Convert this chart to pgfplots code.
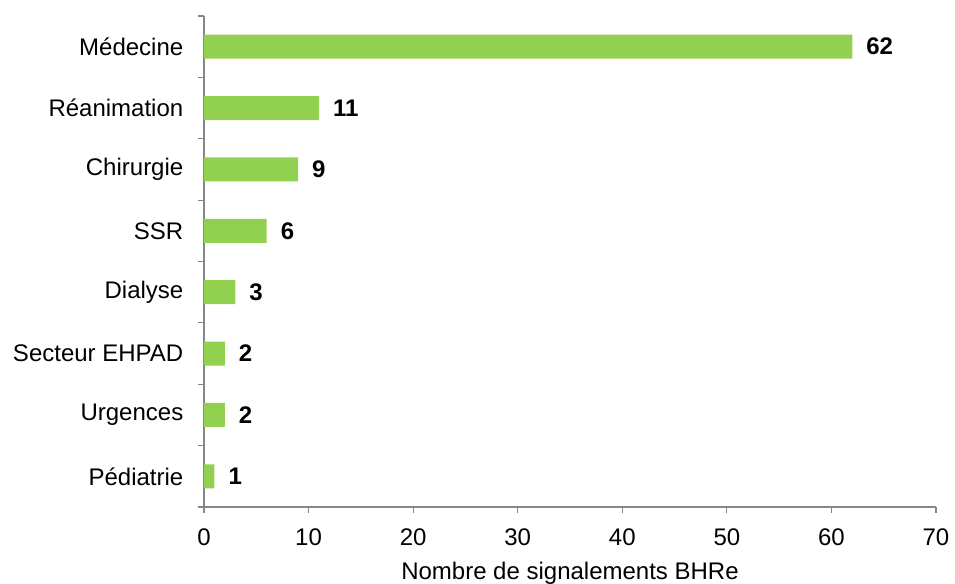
\documentclass[border=0pt]{standalone}
\usepackage{fontspec}
\setmainfont{Liberation Sans}
\usepackage{pgfplots}
\pgfplotsset{compat=1.18}
\usetikzlibrary{calc}
\definecolor{barvert}{HTML}{92D050}
\definecolor{axegris}{HTML}{868686}

\begin{document}
\begin{tikzpicture}
\begin{axis}[
    name=ax,
    xbar,
    scale only axis,
    width=549pt, height=368.25pt,
    xmin=0, xmax=70,
    ymin=-0.5, ymax=7.5,
    axis x line*=bottom,
    axis y line*=left,
    axis line style={axegris, line width=0.8pt},
    tick align=outside,
    major tick length=4.5pt,
    xtick={0,10,...,70},
    tick style={axegris, line width=0.8pt},
    ytick={-0.5,0.5,...,7.5},
    yticklabels={},
    extra y ticks={0,...,7},
    extra y tick labels={Pédiatrie, Urgences, Secteur EHPAD, Dialyse, SSR, Chirurgie, Réanimation, Médecine},
    extra y tick style={major tick length=0pt, yticklabel style={xshift=-12pt}},
    tick label style={font=\fontsize{18}{21}\selectfont, text=black},
    xticklabel style={yshift=-8pt},
    /pgf/number format/assume math mode=true,
    xlabel={Nombre de signalements BHRe},
    xlabel style={font=\fontsize{18}{21}\selectfont, yshift=-6pt},
    bar width=18pt,
    nodes near coords,
    every node near coord/.append style={font=\fontsize{18}{21}\selectfont\bfseries, anchor=west, xshift=7pt, text=black},
    clip=false,
]
\addplot[fill=barvert, draw=none] coordinates {
    (1,0) (2,1) (2,2) (3,3) (6,4) (9,5) (11,6) (62,7)
};
\coordinate (o) at (rel axis cs:0,0);
\end{axis}
\pgfresetboundingbox
\path[use as bounding box] ($(o)+(-153pt,-57pt)$) rectangle ($(o)+(563.25pt,380.25pt)$);
\end{tikzpicture}
\end{document}
